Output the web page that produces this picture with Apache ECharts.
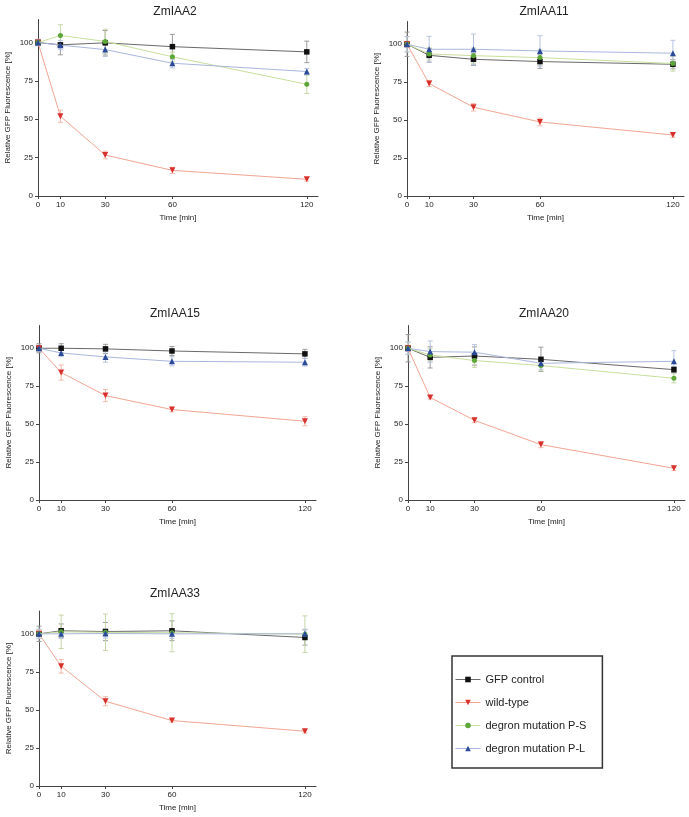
<!DOCTYPE html>
<html>
<head>
<meta charset="utf-8">
<title>GFP fluorescence</title>
<script src="https://cdn.jsdelivr.net/npm/echarts@6/dist/echarts.min.js"></script>
<style>
    html, body { margin: 0; padding: 0; background: #fff; }
    #main { width: 689px; height: 817px; }
</style>
</head>
<body>
<div id="main"></div>
<script>
// 时间点和刻度
var times = [0, 10, 30, 60, 120];
var xTicks = [0, 10, 30, 60, 120];
var yTicks = [0, 25, 50, 75, 100];
var panelTitles = ['ZmIAA2', 'ZmIAA11', 'ZmIAA15', 'ZmIAA20', 'ZmIAA33'];
var seriesNames = ['GFP control', 'wild-type', 'degron mutation P-S', 'degron mutation P-L'];

// ZmIAA2
var iaa2Gfp = [100, 98.5, 99.8, 97.3, 93.9];
var iaa2GfpErr = [2, 6.5, 8, 8, 7];
var iaa2Wt = [100, 52, 26.7, 16.7, 10.9];
var iaa2WtErr = [2, 4, 2.5, 2, 1.2];
var iaa2Ps = [100, 104.6, 100.7, 90.7, 72.8];
var iaa2PsErr = [2, 7, 8, 3, 6];
var iaa2Pl = [100, 98.3, 95.4, 86.5, 81.1];
var iaa2PlErr = [2, 3, 4.5, 3, 2];

// ZmIAA11
var iaa11Gfp = [100, 92.7, 90.1, 88.6, 86.8];
var iaa11GfpErr = [8, 4.5, 4, 4.5, 3];
var iaa11Wt = [100, 74.1, 58.5, 48.8, 40.2];
var iaa11WtErr = [2, 2, 2.5, 2.5, 1.5];
var iaa11Ps = [100, 93.6, 92.5, 91.2, 87.3];
var iaa11PsErr = [5, 4, 5, 5, 5];
var iaa11Pl = [100, 96.7, 96.7, 95.6, 94.1];
var iaa11PlErr = [5, 8.5, 10, 10, 8.5];

// ZmIAA15 (没有 P-S)
var iaa15Gfp = [100, 100, 99.6, 98.2, 96.3];
var iaa15GfpErr = [3, 3, 3, 3, 3];
var iaa15Wt = [100, 84, 68.8, 59.6, 51.9];
var iaa15WtErr = [2, 5, 4, 1.5, 3];
var iaa15Pl = [100, 96.9, 94.3, 91.4, 90.8];
var iaa15PlErr = [2, 2.5, 3.5, 3, 2.5];

// ZmIAA20
var iaa20Gfp = [100, 94, 94.9, 92.7, 85.9];
var iaa20GfpErr = [9, 7, 6, 8, 2];
var iaa20Wt = [100, 67.6, 52.5, 36.5, 20.9];
var iaa20WtErr = [2, 1, 1.5, 2, 1.5];
var iaa20Ps = [100, 95.6, 91.9, 88.6, 80.2];
var iaa20PsErr = [4, 4, 4.5, 3.5, 3];
var iaa20Pl = [100, 97.8, 97.4, 90.1, 91.4];
var iaa20PlErr = [4, 7, 5, 4, 7];

// ZmIAA33
var iaa33Gfp = [100, 102, 101.5, 102, 97.6];
var iaa33GfpErr = [5, 4.5, 6, 6.5, 5];
var iaa33Wt = [100, 78.7, 55.7, 43, 36];
var iaa33WtErr = [2, 4.5, 3, 1, 1];
var iaa33Ps = [100, 101.3, 101, 100.7, 99.8];
var iaa33PsErr = [3, 11, 12, 12.5, 12];
var iaa33Pl = [100, 100, 100.2, 100, 100];
var iaa33PlErr = [3, 3, 3, 3, 3];

// 每个面板: [GFP, wild-type, P-S, P-L], 每项 [均值, 误差]
var panelData = [
    [[iaa2Gfp, iaa2GfpErr], [iaa2Wt, iaa2WtErr], [iaa2Ps, iaa2PsErr], [iaa2Pl, iaa2PlErr]],
    [[iaa11Gfp, iaa11GfpErr], [iaa11Wt, iaa11WtErr], [iaa11Ps, iaa11PsErr], [iaa11Pl, iaa11PlErr]],
    [[iaa15Gfp, iaa15GfpErr], [iaa15Wt, iaa15WtErr], null, [iaa15Pl, iaa15PlErr]],
    [[iaa20Gfp, iaa20GfpErr], [iaa20Wt, iaa20WtErr], [iaa20Ps, iaa20PsErr], [iaa20Pl, iaa20PlErr]],
    [[iaa33Gfp, iaa33GfpErr], [iaa33Wt, iaa33WtErr], [iaa33Ps, iaa33PsErr], [iaa33Pl, iaa33PlErr]]
];

// 网格位置 left, top, width, height, 标题中心 x, 标题 top
var grids = [
    [38, 19.5, 280, 176.5, 170, 1],
    [407, 21.5, 277, 174.5, 539, 1],
    [39, 325.5, 277, 174.5, 170, 303],
    [408, 325.5, 277, 174.5, 539, 303],
    [39, 611, 277, 175, 170, 583]
];

var markerColors = ['#111111', '#d9302c', '#5ca738', '#2b4a9a'];
var lineColors = ['#6a6a6a', '#f2a592', '#c9df9c', '#a9b7dc'];
var errColors = ['#9a9a9a', '#f3b9ab', '#c6d6a6', '#b7c3e0'];
var symbols = ['rect', 'triangle', 'circle', 'triangle'];
var rotates = [0, 180, 0, 0];
var sizes = [5.5, 6, 5, 6];

var font = 'Liberation Sans, Arial, sans-serif';

// 误差线
function renderErr(params, api) {
    var x = api.value(0), y = api.value(1), e = api.value(2);
    var top = api.coord([x, y + e]);
    var bot = api.coord([x, y - e]);
    var st = { stroke: api.visual('color'), lineWidth: 1 };
    return {
        type: 'group',
        children: [
            { type: 'line', shape: { x1: top[0], y1: top[1], x2: bot[0], y2: bot[1] }, style: st },
            { type: 'line', shape: { x1: top[0] - 2.5, y1: top[1], x2: top[0] + 2.5, y2: top[1] }, style: st },
            { type: 'line', shape: { x1: bot[0] - 2.5, y1: bot[1], x2: bot[0] + 2.5, y2: bot[1] }, style: st }
        ]
    };
}

var option = {
    animation: false,
    backgroundColor: '#fff',
    textStyle: { fontFamily: font },
    title: [],
    grid: [],
    xAxis: [],
    yAxis: [],
    series: [],
    legend: {
        data: seriesNames,
        orient: 'vertical',
        left: 452,
        top: 656,
        itemWidth: 25,
        itemHeight: 7,
        itemGap: 12,
        padding: [18, 16, 14, 3],
        borderColor: '#333',
        borderWidth: 1.5,
        lineStyle: { width: 1 },
        textStyle: { fontSize: 11, color: '#222', fontFamily: font }
    }
};

var axisLineStyle = { color: '#444', width: 1 };

for (var i = 0; i < grids.length; i++) {
    var g = grids[i];
    option.title.push({
        text: panelTitles[i],
        left: g[4],
        top: g[5],
        textAlign: 'center',
        textStyle: { fontSize: 12, fontWeight: 'normal', color: '#222', fontFamily: font }
    });
    option.grid.push({ left: g[0], top: g[1], width: g[2], height: g[3] });
    option.xAxis.push({
        type: 'value',
        gridIndex: i,
        min: 0,
        max: 125,
        name: 'Time [min]',
        nameLocation: 'middle',
        nameGap: 18,
        nameTextStyle: { fontSize: 8, color: '#222', fontFamily: font },
        axisLine: { lineStyle: axisLineStyle },
        axisTick: { show: true, length: 3, customValues: xTicks, lineStyle: axisLineStyle },
        axisLabel: { fontSize: 8, color: '#222', margin: 5, customValues: xTicks },
        splitLine: { show: false }
    });
    option.yAxis.push({
        type: 'value',
        gridIndex: i,
        min: 0,
        max: 115,
        name: 'Relative GFP Fluorescence [%]',
        nameLocation: 'middle',
        nameGap: 26,
        nameTextStyle: { fontSize: 8, color: '#222', fontFamily: font },
        axisLine: { show: true, lineStyle: axisLineStyle },
        axisTick: { show: true, length: 3, customValues: yTicks, lineStyle: axisLineStyle },
        axisLabel: { fontSize: 8, color: '#222', margin: 5, customValues: yTicks },
        splitLine: { show: false }
    });

    for (var s = 0; s < 4; s++) {
        var d = panelData[i][s];
        if (!d) continue;
        var pts = [], errs = [];
        for (var k = 0; k < times.length; k++) {
            pts.push([times[k], d[0][k]]);
            errs.push([times[k], d[0][k], d[1][k]]);
        }
        option.series.push({
            type: 'custom',
            name: seriesNames[s] + ' err',
            xAxisIndex: i,
            yAxisIndex: i,
            renderItem: renderErr,
            itemStyle: { color: errColors[s] },
            encode: { x: 0, y: 1 },
            data: errs,
            z: 1,
            silent: true
        });
        option.series.push({
            type: 'line',
            name: seriesNames[s],
            xAxisIndex: i,
            yAxisIndex: i,
            data: pts,
            symbol: symbols[s],
            symbolRotate: rotates[s],
            symbolSize: sizes[s],
            showAllSymbol: true,
            itemStyle: { color: markerColors[s] },
            lineStyle: { color: lineColors[s], width: 1 },
            z: 3 + s
        });
    }
}

var myChart = echarts.init(document.getElementById('main'));
myChart.setOption(option);
</script>
</body>
</html>
